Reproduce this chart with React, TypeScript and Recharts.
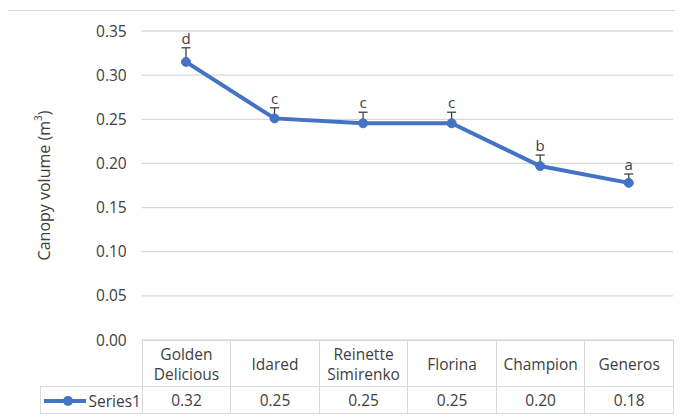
import React from "react";
import {
  LineChart,
  Line,
  XAxis,
  YAxis,
  CartesianGrid,
  ErrorBar,
  LabelList,
  Label,
} from "recharts";

const cultivars = [
  "Golden Delicious",
  "Idared",
  "Reinette Simirenko",
  "Florina",
  "Champion",
  "Generos",
];
const canopyVolume = [0.315, 0.251, 0.2455, 0.2455, 0.197, 0.178];
const errorUp = [0.016, 0.012, 0.0125, 0.0125, 0.0125, 0.01];
const groupLetters = ["d", "c", "c", "c", "b", "a"];
const yTicks = [0, 0.05, 0.1, 0.15, 0.2, 0.25, 0.3, 0.35];
const seriesName = "Series1";

const BLUE = "#4472C4";
const GRID = "#d9d9d9";
const TEXT = "#404040";

// plot box inside the frame
const CHART_W = 674;
const CHART_H = 340;
const PLOT_LEFT = 133.7;
const PLOT_RIGHT = 665;
const PLOT_TOP = 20;
const PLOT_BOTTOM = 329;
const COL_W = (PLOT_RIGHT - PLOT_LEFT) / cultivars.length;
const TABLE_LEFT = 31.5;

const rows = cultivars.map((name, i) => ({
  name,
  volume: canopyVolume[i],
  err: [0, errorUp[i]],
  top: canopyVolume[i] + errorUp[i],
  letter: groupLetters[i],
}));

const markerDot = { r: 4.5, fill: BLUE, stroke: BLUE, strokeWidth: 1 };

function AxisTitle({ viewBox }: any) {
  const cx = 35.5;
  const cy = viewBox.y + viewBox.height / 2;
  return (
    <text
      x={cx}
      y={cy}
      transform={`rotate(-90, ${cx}, ${cy})`}
      textAnchor="middle"
      dominantBaseline="central"
      fill={TEXT}
      fontSize={16}
    >
      Canopy volume (m
      <tspan dy={-6} fontSize={10}>
        3
      </tspan>
      <tspan dy={6}>)</tspan>
    </text>
  );
}

function LegendKey() {
  return (
    <svg width={42} height={12} style={{ verticalAlign: "middle", marginRight: 3 }}>
      <line x1={0} y1={6} x2={42} y2={6} stroke={BLUE} strokeWidth={4} />
      <circle cx={24} cy={6} r={5} fill={BLUE} />
    </svg>
  );
}

export default function App() {
  const cellBorder = `1px solid ${GRID}`;
  return (
    <div
      style={{
        position: "relative",
        left: -1,
        top: 2,
        width: 676,
        height: 409,
        boxSizing: "border-box",
        borderTop: cellBorder,
        borderLeft: cellBorder,
        background: "#fff",
        fontFamily: '"Open Sans", sans-serif',
        color: TEXT,
      }}
    >
      <LineChart
        width={CHART_W}
        height={CHART_H}
        data={rows}
        margin={{
          top: PLOT_TOP,
          right: CHART_W - PLOT_RIGHT,
          bottom: CHART_H - PLOT_BOTTOM,
          left: 0,
        }}
      >
        <CartesianGrid vertical={false} stroke={GRID} strokeWidth={1.3} />
        <XAxis dataKey="name" hide padding={{ left: COL_W / 2, right: COL_W / 2 }} />
        <YAxis
          width={PLOT_LEFT}
          domain={[0, 0.35]}
          ticks={yTicks}
          axisLine={false}
          tickLine={false}
          tickSize={0}
          tickMargin={15}
          tick={{ fill: TEXT, fontSize: 15.5 }}
          tickFormatter={(v: number) => v.toFixed(2)}
        >
          <Label content={<AxisTitle />} />
        </YAxis>
        <Line
          dataKey="volume"
          stroke={BLUE}
          strokeWidth={4}
          dot={false}
          activeDot={false}
          isAnimationActive={false}
        >
          <ErrorBar
            dataKey="err"
            direction="y"
            width={4.5}
            stroke="#404040"
            strokeWidth={1.3}
            isAnimationActive={false}
          />
        </Line>
        {/* markers drawn over the error bar base */}
        <Line
          dataKey="volume"
          stroke="none"
          dot={markerDot}
          activeDot={false}
          isAnimationActive={false}
        />
        <Line
          dataKey="top"
          stroke="none"
          dot={false}
          activeDot={false}
          isAnimationActive={false}
        >
          <LabelList dataKey="letter" position="top" offset={4} fill={TEXT} fontSize={15} />
        </Line>
      </LineChart>

      <table
        style={{
          position: "absolute",
          left: TABLE_LEFT,
          top: PLOT_BOTTOM,
          borderCollapse: "collapse",
          tableLayout: "fixed",
          width: PLOT_RIGHT - TABLE_LEFT,
          fontSize: 15.5,
          color: TEXT,
        }}
      >
        <colgroup>
          <col style={{ width: PLOT_LEFT - TABLE_LEFT }} />
          {cultivars.map((c) => (
            <col key={c} style={{ width: COL_W }} />
          ))}
        </colgroup>
        <tbody>
          <tr style={{ height: 46 }}>
            <td style={{ border: "none", padding: 0 }} />
            {cultivars.map((c) => (
              <td
                key={c}
                style={{
                  border: cellBorder,
                  textAlign: "center",
                  lineHeight: "20px",
                  padding: 0,
                }}
              >
                {c}
              </td>
            ))}
          </tr>
          <tr style={{ height: 27 }}>
            <td style={{ border: cellBorder, padding: "0 0 0 3px", whiteSpace: "nowrap" }}>
              <LegendKey />
              <span style={{ verticalAlign: "middle" }}>{seriesName}</span>
            </td>
            {canopyVolume.map((v, i) => (
              <td key={i} style={{ border: cellBorder, textAlign: "center", padding: 0 }}>
                {v.toFixed(2)}
              </td>
            ))}
          </tr>
        </tbody>
      </table>
    </div>
  );
}
